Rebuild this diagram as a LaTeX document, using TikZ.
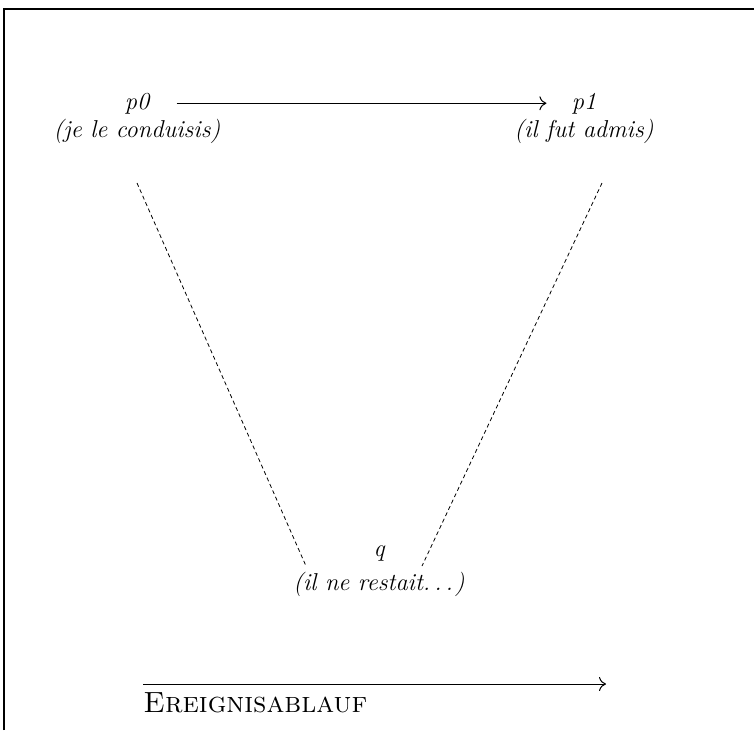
\documentclass[tikz,border=0pt]{standalone}
\usetikzlibrary{arrows.meta}
\begin{document}
\begin{tikzpicture}[x=0.5pt,y=-0.5pt,
  lab/.style={font=\fontsize{12.2}{14}\selectfont\itshape, inner sep=0pt, anchor=base},
  sclab/.style={font=\fontsize{14.6}{17}\selectfont\scshape, inner sep=0pt, anchor=base west},
  flow/.style={line width=0.5pt, -{To[length=3.5pt,width=7pt]}},
  link/.style={line width=0.4pt, dash pattern=on 2pt off 1.5pt},
  frameline/.style={line width=0.75pt}]
\useasboundingbox (0,0) rectangle (754,730);
\coordinate (fa) at (4,730);
\coordinate (fb) at (4,9);
\coordinate (fc) at (754,9);
\draw[frameline] (fa) -- (fb) -- (fc);

\node[lab] (p0) at (137,109) {p0};
\node[lab] (p0l) at (137,137) {(je le conduisis)};
\node[lab] (p1) at (584,109) {p1};
\node[lab] (p1l) at (584,137) {(il fut admis)};
\node[lab] (q) at (379,556) {q};
\node[lab] (ql) at (379,590) {(il ne restait.\kern2pt.\kern2pt.\kern1pt)};

\draw[flow, shorten <=13.5pt, shorten >=12.5pt] (p0) -- (p1);

\coordinate (l0) at (137,183);
\coordinate (l1) at (306,566);
\coordinate (r0) at (602,183);
\coordinate (r1) at (422,566);
\draw[link] (l0) -- (l1);
\draw[link] (r0) -- (r1);

\coordinate (e0) at (143,684);
\coordinate (e1) at (606,684);
\draw[flow] (e0) -- (e1);
\node[sclab] (ev) at (143,712) {Ereignisablauf};
\end{tikzpicture}
\end{document}
